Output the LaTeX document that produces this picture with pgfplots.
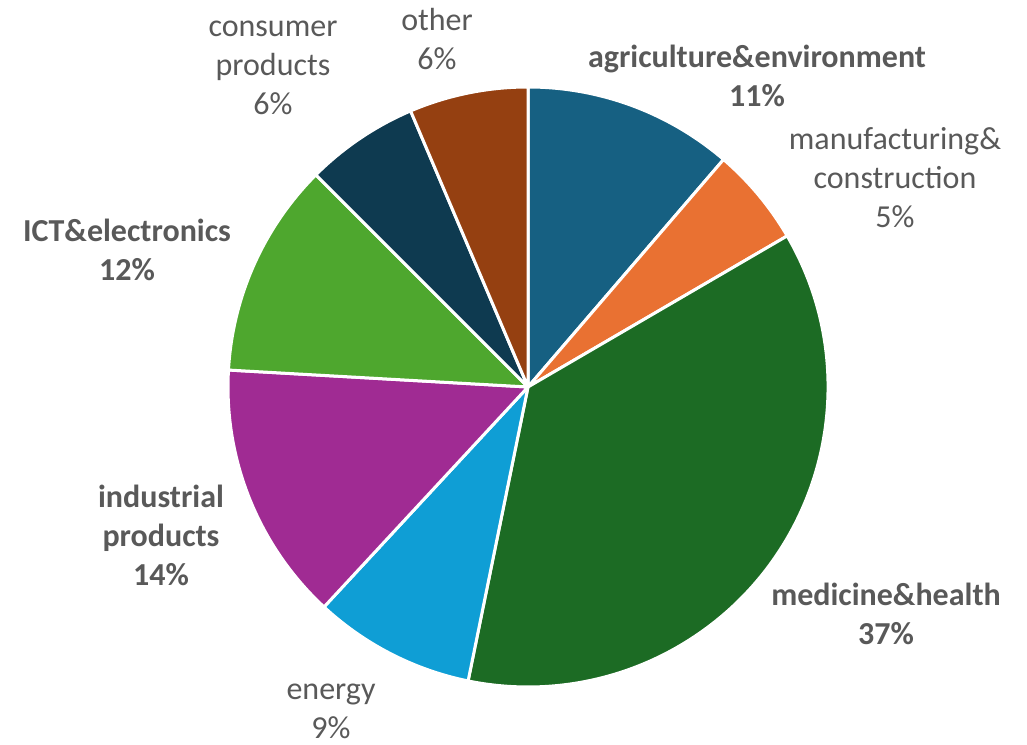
\documentclass[border=0pt]{standalone}
\usepackage{pgfplots}
\pgfplotsset{compat=1.18}
\usepackage{fontspec}
\setmainfont{Carlito}
\definecolor{cAgri}{RGB}{22,96,130}
\definecolor{cMan}{RGB}{233,113,50}
\definecolor{cMed}{RGB}{28,107,36}
\definecolor{cEne}{RGB}{15,158,213}
\definecolor{cInd}{RGB}{160,43,147}
\definecolor{cICT}{RGB}{78,167,46}
\definecolor{cCon}{RGB}{14,58,80}
\definecolor{cOth}{RGB}{149,64,17}
\definecolor{lbl}{RGB}{89,89,89}
\begin{document}
\begin{tikzpicture}
\begin{axis}[
  width=1027pt, height=744pt, scale only axis,
  xmin=0, xmax=1027, ymin=0, ymax=744,
  hide axis, clip=false,
]
\xdef\angA{90}
\foreach \v/\col in {11.3/cAgri, 5.3/cMan, 36.6/cMed, 8.7/cEne, 14.0/cInd, 11.6/cICT, 6.1/cCon, 6.4/cOth}{
  \pgfmathsetmacro\angB{\angA - 3.6*\v}
  \pgfmathsetmacro\sx{528 + 300*cos(\angA)}
  \pgfmathsetmacro\sy{357 + 300*sin(\angA)}
  \edef\temp{\noexpand\fill[\col, draw=white, line width=3pt, line join=round]
    (axis cs:528,357) -- (axis cs:\sx,\sy) arc[start angle=\angA, end angle=\angB, radius=300pt] -- cycle;}
  \temp
  \xdef\angA{\angB}
}
\tikzset{lab/.style={align=center, text=lbl, font=\fontsize{32}{39}\selectfont, inner sep=0pt}}
\node[lab] at (axis cs:757,668) {\textbf{agriculture\&environment}\\\textbf{11\%}};
\node[lab] at (axis cs:895,566) {manufacturing\&\\construction\\5\%};
\node[lab] at (axis cs:886,130) {\textbf{medicine\&health}\\\textbf{37\%}};
\node[lab] at (axis cs:331,33) {energy\\9\%};
\node[lab] at (axis cs:161,209) {\textbf{industrial}\\\textbf{products}\\\textbf{14\%}};
\node[lab] at (axis cs:127,494) {\textbf{ICT\&electronics}\\\textbf{12\%}};
\node[lab] at (axis cs:273,676) {consumer\\products\\6\%};
\node[lab] at (axis cs:437,705) {other\\6\%};
\coordinate (ll) at (axis cs:0,0);
\coordinate (ur) at (axis cs:1027,744);
\end{axis}
\pgfresetboundingbox
\path (ll) rectangle (ur);
\end{tikzpicture}
\end{document}
